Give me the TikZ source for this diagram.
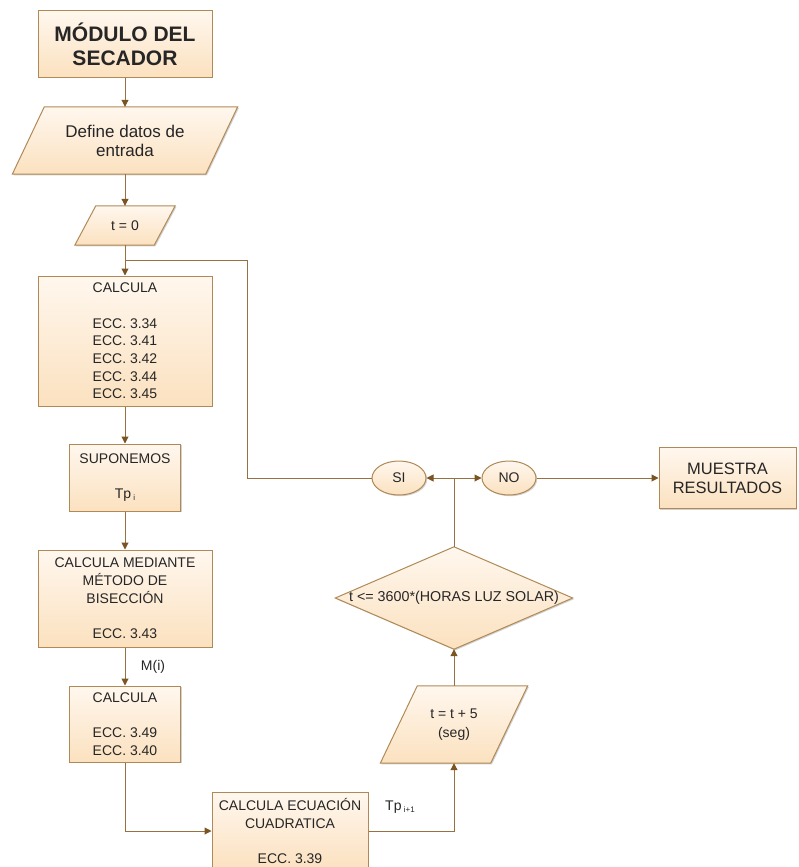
\documentclass[tikz,border=0pt]{standalone}
\usepackage{fontspec}
\setmainfont{Liberation Sans}
\usetikzlibrary{shapes.geometric,arrows.meta,shadows,calc}
\pgfdeclarelayer{bg}\pgfsetlayers{bg,main}
\definecolor{fTop}{HTML}{FFF7EE}
\definecolor{fBot}{HTML}{FBE1BF}
\definecolor{bord}{HTML}{B08A56}
\definecolor{lin}{HTML}{967240}
\definecolor{tip}{HTML}{7A5523}
\definecolor{txt}{HTML}{262626}
\newcommand\fsz[2]{\fontsize{#1}{#2}\selectfont}
\newcommand\sbs[1]{\,\raisebox{-2pt}{\fsz{8}{8}#1}}
\begin{document}
\begin{tikzpicture}[x=1pt,y=-1pt,
 shp/.style={draw=bord, line width=1pt, top color=fTop, bottom color=fBot,
   drop shadow={shadow xshift=1.2pt, shadow yshift=-1.2pt, fill=black, opacity=0.18}},
 box/.style={shp, rectangle, inner sep=0pt, align=center, text=txt, font=\fsz{14}{17.7}},
 pnode/.style={rectangle, inner sep=0pt, align=center, text=txt, font=\fsz{14}{17.7}},
 oval/.style={shp, ellipse, inner sep=0pt, minimum width=54pt, minimum height=34pt, text=txt, font=\fsz{14}{16}},
 conn/.style={draw=lin, line width=1pt},
 arr/.style={conn, -{Triangle[length=7pt,width=7pt,color=tip]}},
 lab/.style={text=txt, font=\fsz{14}{16}, inner sep=0pt}]
\useasboundingbox (0,0) rectangle (798,867);

\node[box, minimum width=174pt, minimum height=66pt, font=\bfseries\fsz{21}{24}] (title) at (125,44) {MÓDULO DEL\\SECADOR};
\node[pnode, minimum width=225pt, minimum height=67pt, font=\fsz{17}{19}] (define) at (125,140.5) {Define datos de\\entrada};
\node[pnode, minimum width=100pt, minimum height=39pt] (t0) at (125,225.5) {t = 0};
\node[box, minimum width=174pt, minimum height=130pt] (calc1) at (125,341) {CALCULA\\[17.7pt]ECC. 3.34\\ECC. 3.41\\ECC. 3.42\\ECC. 3.44\\ECC. 3.45};
\node[box, minimum width=111pt, minimum height=67pt] (sup) at (125,477.5) {SUPONEMOS\\[17.5pt]Tp\sbs{i}};
\node[box, minimum width=174pt, minimum height=97pt] (med) at (125,598.5) {CALCULA MEDIANTE\\MÉTODO DE\\BISECCIÓN\\[17.7pt]ECC. 3.43};
\node[box, minimum width=111pt, minimum height=76pt] (calc2) at (125,724) {CALCULA\\[17.7pt]ECC. 3.49\\ECC. 3.40};
\node[box, minimum width=156pt, minimum height=78pt] (cuad) at (290,831) {CALCULA ECUACIÓN\\CUADRATICA\\[17.7pt]ECC. 3.39};
\node[pnode, minimum width=147pt, minimum height=77pt, font=\fsz{14}{19}] (tt5) at (454,724.5) {t = t + 5\\(seg)};
\node[pnode, minimum width=237pt, minimum height=102pt, font=\fsz{14.3}{16}] (dec) at (454,598) {t <= 3600*(HORAS LUZ SOLAR)};
\node[oval] (si) at (399,478) {SI};
\node[oval] (no) at (509,478) {NO};
\node[box, minimum width=137pt, minimum height=61pt, font=\fsz{16.5}{19}] (mues) at (727.5,478) {MUESTRA\\RESULTADOS};
\node[lab] (mi) at (153,667) {M(i)};
\node[lab] (tpi) at (400,807) {Tp\sbs{i+1}};

\begin{pgfonlayer}{bg}
\path[shp] ($(define.north west)+(32,0)$) -- (define.north east) -- ($(define.south east)-(32,0)$) -- (define.south west) -- cycle;
\path[shp] ($(t0.north west)+(21,0)$) -- (t0.north east) -- ($(t0.south east)-(21,0)$) -- (t0.south west) -- cycle;
\path[shp] ($(tt5.north west)+(37,0)$) -- (tt5.north east) -- ($(tt5.south east)-(37,0)$) -- (tt5.south west) -- cycle;
\path[shp] (dec.north) -- (dec.east) -- (dec.south) -- (dec.west) -- cycle;
\end{pgfonlayer}

\draw[arr] (title.south) -- (define.north);
\draw[arr] (define.south) -- (t0.north);
\draw[arr] (t0.south) -- (calc1.north);
\coordinate (loop) at (247,260);
\draw[conn] (si.west) -| (loop) -- (loop -| calc1.north);
\draw[arr] (calc1.south) -- (sup.north);
\draw[arr] (sup.south) -- (med.north);
\draw[arr] (med.south) -- (calc2.north);
\draw[arr] (calc2.south) |- (cuad.west);
\draw[arr] (cuad.east) -| (tt5.south);
\draw[arr] (tt5.north) -- (dec.south);
\coordinate (junc) at (454,478);
\draw[conn] (dec.north) -- (junc);
\draw[arr] (junc) -- (si.east);
\draw[arr] (junc) -- (no.west);
\draw[arr] (no.east) -- (mues.west);
\end{tikzpicture}
\end{document}
